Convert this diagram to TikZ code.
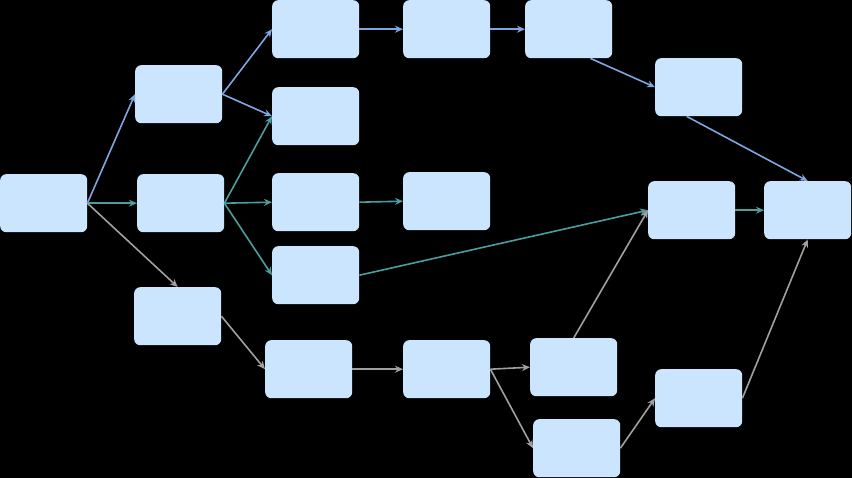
\documentclass[tikz,border=0pt]{standalone}
\usetikzlibrary{arrows.meta}
\begin{document}
\begin{tikzpicture}[x=1pt,y=-1pt,
 box/.style={fill={rgb,255:red,204;green,229;blue,255},rounded corners=6pt,minimum width=87pt,minimum height=58pt,inner sep=0pt,anchor=north west,draw=none},
 e/.style={line width=1.6pt,-{Stealth[length=8pt,width=7pt]}},
 bl/.style={e,draw={rgb,255:red,126;green,166;blue,224}},
 tl/.style={e,draw={rgb,255:red,74;green,158;blue,158}},
 gr/.style={e,draw={rgb,255:red,160;green,160;blue,160}}]
\fill[black] (0,0) rectangle (852,478);
\useasboundingbox (0,0) rectangle (852,478);
\node[box] (A) at (0,174) {};
\node[box] (B1) at (135,65) {};
\node[box] (B2) at (137,174) {};
\node[box] (B3) at (134,287) {};
\node[box] (C1) at (272,0) {};
\node[box] (C2) at (272,87) {};
\node[box] (C3) at (272,173) {};
\node[box] (C4) at (272,246) {};
\node[box] (C5) at (265,340) {};
\node[box] (D1) at (403,0) {};
\node[box] (D2) at (403,172) {};
\node[box] (D3) at (403,340) {};
\node[box] (E1) at (525,0) {};
\node[box] (E2) at (530,338) {};
\node[box] (E3) at (533,419) {};
\node[box] (F1) at (655,58) {};
\node[box] (F2) at (648,181) {};
\node[box] (F3) at (655,369) {};
\node[box] (G) at (764,181) {};
% blue
\draw[bl] (A.east) -- (B1.west);
\draw[bl] (B1.east) -- (C1.west);
\draw[bl] (B1.east) -- (C2.west);
\draw[bl] (C1.east) -- (D1.west);
\draw[bl] (D1.east) -- (E1.west);
\draw[bl] (E1.south east) ++(-22,0) coordinate (e1s) (e1s) -- (F1.west);
\draw[bl] (F1.south) ++(-12,0) coordinate (f1s) (f1s) -- (G.north);
% teal
\draw[tl] (A.east) -- (B2.west);
\draw[tl] (B2.east) -- (C2.west);
\draw[tl] (B2.east) -- (C3.west);
\draw[tl] (B2.east) -- (C4.west);
\draw[tl] (C3.east) -- (D2.west);
\draw[tl] (C4.east) -- (F2.west);
\draw[tl] (F2.east) -- (G.west);
% gray
\draw[gr] (A.east) -- (B3.north);
\draw[gr] (B3.east) -- (C5.west);
\draw[gr] (C5.east) -- (D3.west);
\draw[gr] (D3.east) -- (E2.west);
\draw[gr] (D3.east) -- (E3.west);
\draw[gr] (E2.north) -- (F2.west);
\draw[gr] (E3.east) -- (F3.west);
\draw[gr] (F3.east) -- (G.south);
\end{tikzpicture}
\end{document}
